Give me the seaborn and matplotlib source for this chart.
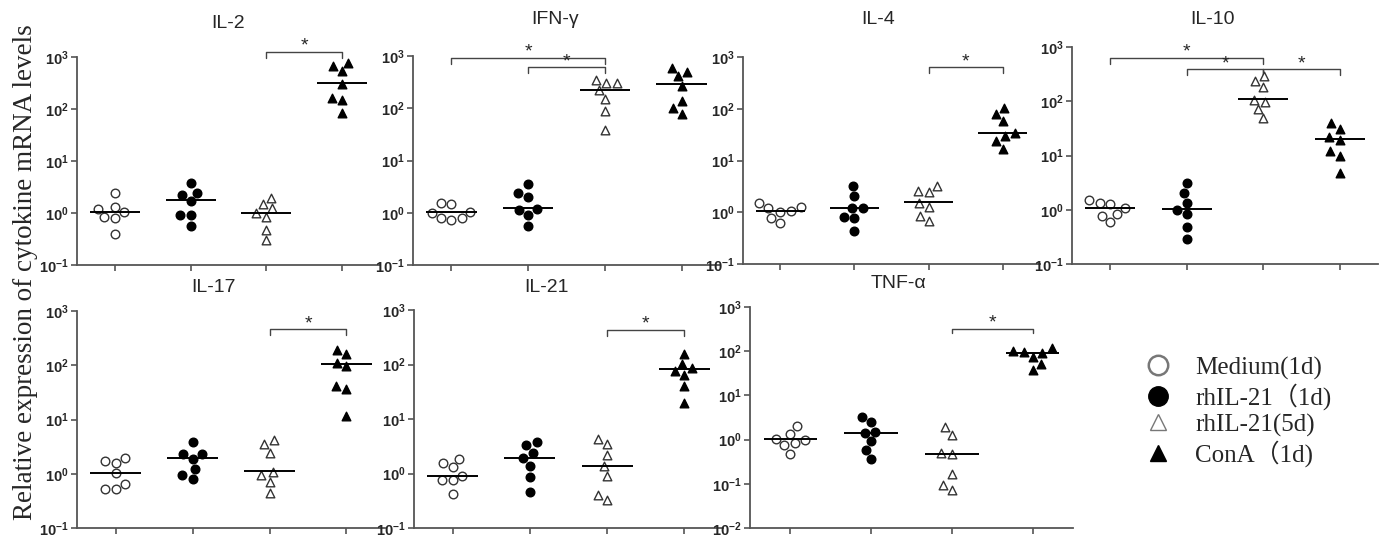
import matplotlib
matplotlib.use("Agg")
import matplotlib.pyplot as plt
from matplotlib.lines import Line2D
from matplotlib.font_manager import FontProperties
from matplotlib.ticker import NullLocator
import numpy as np
import pandas as pd
import seaborn as sns

sns.set_style("white")
plt.rcParams["font.family"] = ["Liberation Sans", "DejaVu Sans"]

GROUPS = ["Medium(1d)", "rhIL-21（1d)", "rhIL-21(5d)", "ConA（1d)"]
PANELS = ["IL-2", "IFN-γ", "IL-4", "IL-10", "IL-17", "IL-21", "TNF-α"]

# relative expression per group: Medium, rhIL-21 1d, rhIL-21 5d, ConA
IL2 = [[2.46, 1.21, 1.30, 0.85, 0.81, 1.04, 0.40],
       [3.7, 2.2, 2.46, 1.7, 0.92, 0.90, 0.56],
       [1.97, 1.47, 1.23, 1.0, 0.85, 0.47, 0.30],
       [776, 673, 537, 298, 165, 149, 85]]
IFNG = [[1.55, 1.48, 1.05, 1.0, 0.78, 0.74, 0.79],
        [3.6, 2.0, 2.34, 1.2, 1.12, 0.92, 0.56],
        [304, 354, 300, 219, 152, 87, 39],
        [488, 590, 408, 270, 135, 101, 78]]
IL4 = [[1.25, 1.0, 1.19, 1.51, 1.06, 0.77, 0.62],
       [3.17, 2.03, 1.23, 1.21, 0.82, 0.78, 0.44],
       [3.27, 2.5, 2.58, 1.51, 1.25, 0.67, 0.86],
       [102, 57, 79, 33.4, 30, 23.4, 16.6]]
IL10 = [[1.27, 1.50, 1.32, 0.83, 1.06, 0.76, 0.59],
        [3.17, 2.07, 1.36, 1.0, 0.83, 0.49, 0.29],
        [290, 239, 186, 106, 98, 71, 49],
        [30.8, 39.6, 19.6, 21.7, 12, 9.7, 4.7]]
IL17 = [[1.98, 1.59, 1.71, 1.03, 0.64, 0.52, 0.53],
        [3.78, 2.34, 2.30, 1.9, 1.23, 0.93, 0.81],
        [4.2, 3.5, 2.4, 1.07, 0.93, 0.71, 0.45],
        [163, 194, 112, 95, 41.5, 36, 11.8]]
IL21 = [[1.88, 1.33, 1.57, 0.77, 0.75, 0.91, 0.42],
        [3.34, 3.83, 2.37, 1.93, 1.37, 0.88, 0.45],
        [4.27, 3.48, 2.21, 1.37, 0.91, 0.33, 0.40],
        [158, 103, 87, 64, 76, 40, 20]]
TNFA = [[2.03, 1.05, 0.84, 1.0, 1.35, 0.74, 0.48],
        [3.25, 2.53, 1.40, 1.52, 0.92, 0.57, 0.36],
        [1.90, 1.25, 0.47, 0.51, 0.17, 0.094, 0.073],
        [100, 118, 91, 74, 98, 51, 38]]

# horizontal line in each group
IL2_MID = [1.06, 1.75, 1.01, 322]
IFNG_MID = [1.03, 1.23, 219, 290]
IL4_MID = [1.08, 1.23, 1.56, 34]
IL10_MID = [1.10, 1.03, 110, 20.4]
IL17_MID = [1.03, 1.96, 1.13, 105]
IL21_MID = [0.91, 1.93, 1.37, 81]
TNFA_MID = [1.03, 1.40, 0.48, 92]

# significance brackets: (group a, group b, bracket level)
IL2_SIG = [(2, 3, 1260)]
IFNG_SIG = [(0, 2, 912), (1, 2, 603)]
IL4_SIG = [(2, 3, 631)]
IL10_SIG = [(0, 2, 631), (1, 2, 389), (2, 3, 389)]
IL17_SIG = [(2, 3, 457)]
IL21_SIG = [(2, 3, 437)]
TNFA_SIG = [(2, 3, 324)]

YMIN_EXP = [-1, -1, -1, -1, -1, -1, -2]

ALL_VALS = [IL2, IFNG, IL4, IL10, IL17, IL21, TNFA]
ALL_MID = [IL2_MID, IFNG_MID, IL4_MID, IL10_MID, IL17_MID, IL21_MID, TNFA_MID]
ALL_SIG = [IL2_SIG, IFNG_SIG, IL4_SIG, IL10_SIG, IL17_SIG, IL21_SIG, TNFA_SIG]

# layout in pixels: left, right, top, bottom, title x, title y
W, H = 1383, 539
BOXES = [(77, 380, 57, 265, 228, 23),
         (413, 720, 56, 265, 555, 20),
         (743, 1040, 57, 264, 878, 20),
         (1072, 1378, 47, 264, 1212, 20),
         (77, 385, 311, 528, 213, 287),
         (414, 723, 310, 528, 547, 287),
         (750, 1073, 307, 528, 898, 284)]

MARKERS = ["o", "o", "^", "^"]
FACES = ["white", "black", "white", "black"]
EDGES = ["#333333", "black", "#333333", "black"]
AXIS_GRAY = "#555555"
LAYOUT_SIZE = 6.3   # spacing used for the swarm layout
DOT_SIZE = 6.2      # drawn marker size

fig = plt.figure(figsize=(W / 100, H / 100), dpi=100)
axes = []

for name, vals, mids, sigs, e0, (l, r, t, b, tx, ty) in zip(
        PANELS, ALL_VALS, ALL_MID, ALL_SIG, YMIN_EXP, BOXES):
    ax = fig.add_axes([l / W, 1 - b / H, (r - l) / W, (b - t) / H])
    axes.append(ax)
    df = pd.DataFrame({"group": np.repeat(GROUPS, [len(v) for v in vals]),
                       "value": np.concatenate(vals)})
    for i, g in enumerate(GROUPS):
        sns.swarmplot(data=df[df["group"] == g], x="group", y="value", order=GROUPS,
                      ax=ax, log_scale=True, marker=MARKERS[i], color=FACES[i],
                      edgecolor=EDGES[i], linewidth=1, size=LAYOUT_SIZE, zorder=3)

    pos = np.arange(len(GROUPS))
    ax.hlines(mids, pos - 0.33, pos + 0.33, color="black", lw=1.4, zorder=4)

    for a, c, y in sigs:
        y0 = y / 10 ** 0.11
        ax.plot([a, a, c, c], [y0, y, y, y0], color="#444444", lw=1, clip_on=False)
        ax.annotate("*", ((a + c) / 2, y), xytext=(0, -2), textcoords="offset points",
                    ha="center", va="bottom", fontsize=14, annotation_clip=False)

    ax.set_xlim(-0.5, 3.5)
    ax.set_ylim(10.0 ** e0, 1e3)
    ax.set_xticks(pos, labels=[""] * len(pos))
    exps = list(range(e0, 4))
    ax.set_yticks([10.0 ** k for k in exps],
                  labels=[rf"$\mathdefault{{10^{{{k}}}}}$" for k in exps],
                  fontweight="bold", fontsize=10.5)
    ax.yaxis.set_minor_locator(NullLocator())
    ax.set_xlabel("")
    ax.set_ylabel("")
    for side in ["top", "right"]:
        ax.spines[side].set_visible(False)
    for side in ["left", "bottom"]:
        ax.spines[side].set_color(AXIS_GRAY)
        ax.spines[side].set_linewidth(1.3)
    ax.tick_params(axis="both", length=4, width=1.2, color=AXIS_GRAY, pad=2,
                   direction="out", left=True, bottom=True)
    fig.text(tx / W, 1 - ty / H, name, ha="center", va="center", fontsize=14)

fig.text(26 / W, 0.495, "Relative expression of cytokine mRNA levels", rotation=90,
         ha="center", va="center", fontsize=19.5, family=["Liberation Serif", "DejaVu Serif"])

handles = [Line2D([], [], ls="", marker="o", ms=14, mfc="white", mec="#777777", mew=1.8),
           Line2D([], [], ls="", marker="o", ms=14, mfc="black", mec="black"),
           Line2D([], [], ls="", marker="^", ms=12, mfc="white", mec="#777777", mew=1),
           Line2D([], [], ls="", marker="^", ms=12, mfc="black", mec="black")]
fig.legend(handles, GROUPS, loc="upper left", bbox_to_anchor=(1133 / W, 1 - 344 / H),
           frameon=False, borderpad=0, handlelength=1.0, handletextpad=1.0,
           labelspacing=0.14,
           prop=FontProperties(family=["Liberation Serif", "Noto Sans CJK SC"], size=18))

# run the swarm layout with the chosen spacing, then freeze it and set the dot size
fig.canvas.draw()
for ax in axes:
    for coll in ax.collections:
        if "draw" in vars(coll):
            del coll.draw
            coll.set_sizes([DOT_SIZE ** 2])

fig.savefig("out.png", dpi=100)
